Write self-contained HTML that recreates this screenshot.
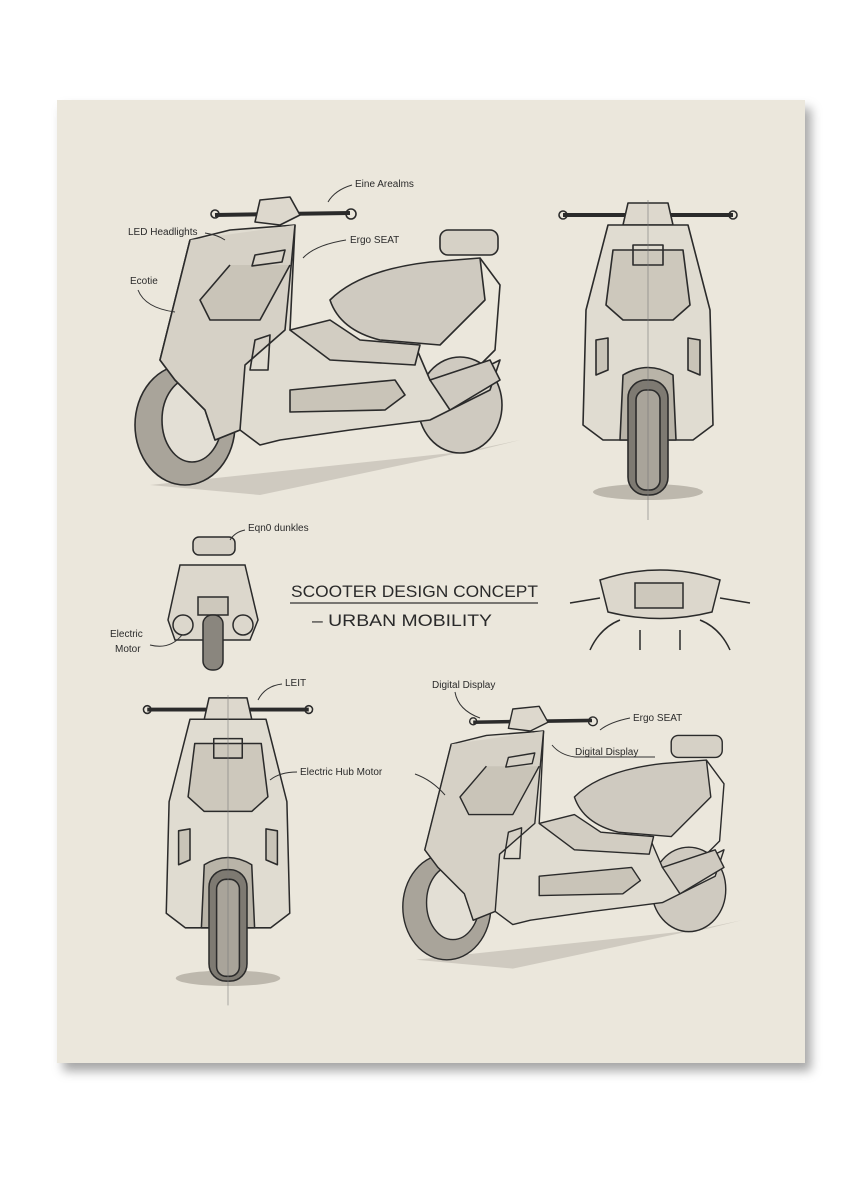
<!DOCTYPE html>
<html><head><meta charset="utf-8"><style>
html,body{margin:0;padding:0;background:#fff;}
body{width:864px;height:1184px;position:relative;overflow:hidden;}
.paper{position:absolute;left:57px;top:100px;width:748px;height:963px;background:#ebe7dc;box-shadow:6px 8px 10px rgba(0,0,0,0.35);}
svg{position:absolute;left:0;top:0;}
text{font-family:"Liberation Sans",sans-serif;fill:#2a2a2a;}
</style></head><body>
<div class="paper"></div>
<svg width="864" height="1184" viewBox="0 0 864 1184">
<defs>
<g id="side" fill="none" stroke="#2b2b2b" stroke-width="1.6" stroke-linejoin="round">
  <path d="M150 485 L480 450 L520 440 L260 495 Z" fill="#bdb8ad" stroke="none" opacity="0.6"/>
  <ellipse cx="460" cy="405" rx="42" ry="48" fill="#cfcac0"/>
  <ellipse cx="185" cy="425" rx="50" ry="60" fill="#a9a49a"/>
  <ellipse cx="192" cy="420" rx="30" ry="42" fill="#e3dfd5"/>
  <path d="M160 360 L190 240 L230 230 L295 225 L290 330 L320 350 L415 345 L430 380 L470 375 L500 360 L490 390 L430 420 L350 430 L280 440 L260 445 L240 430 L215 440 L205 410 L175 380 Z" fill="#e0dcd1"/>
  <path d="M190 240 L160 360 L175 380 L205 410 L215 440 L240 430 L245 365 L285 330 L295 225" fill="#d6d1c6"/>
  <path d="M230 265 L200 300 L210 320 L260 320 L290 265" fill="#c9c4b8"/>
  <path d="M255 255 L285 250 L282 262 L252 266 Z"/>
  <path d="M290 390 L395 380 L405 395 L385 410 L290 412 Z" fill="#c9c4b8"/>
  <path d="M250 370 L255 340 L270 335 L268 370 Z"/>
  <path d="M330 300 Q360 270 430 262 L480 258 L485 300 L440 345 L380 340 Q340 330 330 300 Z" fill="#cfcac0"/>
  <path d="M290 330 L330 320 L360 340 L420 345 L415 365 L330 360 Z" fill="#d2cdc2"/>
  <path d="M480 258 L500 285 L495 350 L470 375"/>
  <rect x="440" y="230" width="58" height="25" rx="8" fill="#d6d1c6"/>
  <path d="M430 380 L490 360 L500 380 L450 410 Z" fill="#cfcac0"/>
  <path d="M215 215 L350 213" stroke-width="4"/>
  <circle cx="215" cy="214" r="4"/><circle cx="351" cy="214" r="5"/>
  <path d="M260 200 L290 197 L300 215 L280 225 L255 222 Z" fill="#ddd8cd"/>
</g>
<g id="front" fill="none" stroke="#2b2b2b" stroke-width="1.6" stroke-linejoin="round">
  <ellipse cx="0" cy="292" rx="55" ry="8" fill="#bdb8ad" stroke="none"/>
  <path d="M-85 15 L85 15" stroke-width="4"/>
  <circle cx="-85" cy="15" r="4"/><circle cx="85" cy="15" r="4"/>
  <path d="M-20 3 L20 3 L25 25 L-25 25 Z" fill="#ddd8cd"/>
  <path d="M-40 25 L40 25 L62 110 L65 225 L45 240 L-45 240 L-65 225 L-62 110 Z" fill="#e0dcd1"/>
  <path d="M-35 50 L35 50 L42 105 L25 120 L-25 120 L-42 105 Z" fill="#cdc8bc"/>
  <path d="M-15 45 L15 45 L15 65 L-15 65 Z"/>
  <path d="M-52 140 L-40 138 L-40 170 L-52 175 Z" fill="#c9c4b8"/>
  <path d="M52 140 L40 138 L40 170 L52 175 Z" fill="#c9c4b8"/>
  <path d="M-25 175 Q0 160 25 175 L28 240 L-28 240 Z" fill="#b9b4a8"/>
  <rect x="-20" y="180" width="40" height="115" rx="18" fill="#7e7a72"/>
  <rect x="-12" y="190" width="24" height="100" rx="10" fill="#a9a49a"/>
  <path d="M0 0 L0 320" stroke-width="0.6" stroke="#777"/>
</g>
</defs>

<use href="#side"/>
<use href="#side" transform="translate(284 533) scale(0.88)"/>
<use href="#front" transform="translate(648 200)"/>
<use href="#front" transform="translate(228 695) scale(0.95 0.97)"/>

<g fill="none" stroke="#2b2b2b" stroke-width="1.5">
  <rect x="193" y="537" width="42" height="18" rx="6" fill="#d6d1c6"/>
  <path d="M180 565 L245 565 L258 620 L250 640 L175 640 L168 620 Z" fill="#dcd7cc"/>
  <rect x="198" y="597" width="30" height="18" fill="#cdc8bc"/>
  <rect x="203" y="615" width="20" height="55" rx="9" fill="#8a867e"/>
  <circle cx="183" cy="625" r="10"/><circle cx="243" cy="625" r="10"/>
</g>
<g fill="none" stroke="#2b2b2b" stroke-width="1.5">
  <path d="M570 603 L600 598 M720 598 L750 603" />
  <path d="M600 580 Q660 560 720 580 L712 612 Q660 625 608 612 Z" fill="#dcd7cc"/>
  <rect x="635" y="583" width="48" height="25" fill="#cdc8bc"/>
  <path d="M590 650 Q600 628 620 620 M730 650 Q720 628 700 620 M640 630 L640 650 M680 630 L680 650"/>
</g>

<text x="291" y="597" font-size="17" textLength="247" lengthAdjust="spacingAndGlyphs">SCOOTER DESIGN CONCEPT</text>
<line x1="290" y1="603" x2="538" y2="603" stroke="#333" stroke-width="1.2"/>
<text x="312" y="626" font-size="17" textLength="180" lengthAdjust="spacingAndGlyphs">– URBAN MOBILITY</text>

<g font-size="10">
<text x="355" y="187">Eine Arealms</text>
<text x="128" y="235">LED Headlights</text>
<text x="350" y="243">Ergo SEAT</text>
<text x="130" y="284">Ecotie</text>
<text x="248" y="531">Eqn0 dunkles</text>
<text x="110" y="637">Electric</text>
<text x="115" y="652">Motor</text>
<text x="285" y="686">LEIT</text>
<text x="432" y="688">Digital Display</text>
<text x="633" y="721">Ergo SEAT</text>
<text x="575" y="755">Digital Display</text>
<text x="300" y="775">Electric Hub Motor</text>
</g>
<g fill="none" stroke="#333" stroke-width="1">
<path d="M352 185 Q335 190 328 202"/>
<path d="M205 233 Q218 235 225 240"/>
<path d="M346 240 Q315 245 303 258"/>
<path d="M138 290 Q145 308 175 312"/>
<path d="M245 530 Q235 532 230 540"/>
<path d="M150 645 Q170 650 182 635"/>
<path d="M282 684 Q265 686 258 700"/>
<path d="M455 692 Q458 710 480 718"/>
<path d="M630 718 Q610 722 600 730"/>
<path d="M575 757 L655 757 M575 757 Q560 755 552 745"/>
<path d="M297 772 Q280 772 270 780 M415 774 Q432 780 445 795"/>
</g>
</svg>
</body></html>
